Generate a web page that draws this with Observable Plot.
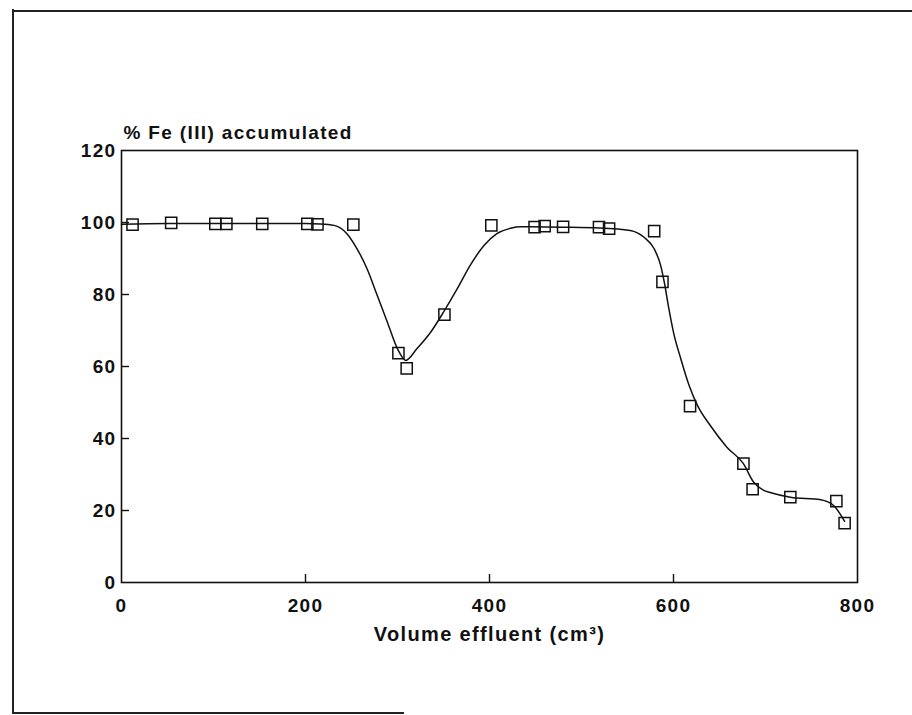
<!DOCTYPE html>
<html>
<head>
<meta charset="utf-8">
<script src="https://cdn.jsdelivr.net/npm/d3@7"></script>
<script src="https://cdn.jsdelivr.net/npm/@observablehq/plot@0.6"></script>
<style>
  html, body { margin: 0; padding: 0; background: #fff; }
  #wrap { position: relative; width: 912px; height: 715px; overflow: hidden; }
  .edge { position: absolute; background: #222; }
</style>
</head>
<body>
<div id="wrap">
  <div class="edge" style="left:12px; top:9px; width:1.5px; height:704px;"></div>
  <div class="edge" style="left:12px; top:10px; width:900px; height:1.5px;"></div>
  <div class="edge" style="left:12px; top:712px; width:392px; height:1.5px;"></div>
</div>
<script>
// Measured points (volume effluent cm3, % Fe(III) accumulated)
const ptX = [12, 54, 102, 114, 153, 202, 213, 252, 301, 310, 351, 402, 449, 460, 480, 519, 530, 579, 588, 618, 676, 686, 727, 777, 786];
const ptY = [99.4, 99.9, 99.6, 99.6, 99.6, 99.6, 99.5, 99.4, 63.7, 59.5, 74.4, 99.2, 98.7, 99.0, 98.8, 98.7, 98.3, 97.6, 83.5, 49.0, 33.0, 25.9, 23.7, 22.6, 16.5];

// Smooth fitted curve
const curveX = [0, 50, 100, 150, 200, 216, 231, 245, 256, 267, 278, 289, 300, 309, 321, 336, 350, 365, 379, 394, 408, 423, 434, 480, 520, 553, 568, 579, 586, 590, 595, 600, 608, 617, 626, 640, 658, 676, 687, 698, 705, 727, 760, 774, 786];
const curveY = [99.5, 99.7, 99.7, 99.7, 99.7, 99.6, 99.2, 96.9, 92.7, 87.1, 79.7, 72.3, 64.9, 61.7, 64.9, 69.5, 75.1, 81.6, 88.1, 93.6, 96.9, 98.4, 98.8, 98.7, 98.5, 97.8, 95.9, 92.7, 88.1, 83.4, 76.0, 69.5, 62.1, 54.7, 49.2, 43.6, 37.6, 33.0, 27.9, 25.6, 25.0, 23.7, 23.0, 21.4, 17.0];

const xTicks = [0, 200, 400, 600, 800];
const yTicks = [0, 20, 40, 60, 80, 100, 120];
const yLabel = "% Fe (III) accumulated";
const xLabel = "Volume effluent (cm³)";

const points = ptX.map((x, i) => ({x, y: ptY[i]}));
const curve = curveX.map((x, i) => ({x, y: curveY[i]}));

const W = 912, H = 715, mL = 121, mR = 55, mT = 150, mB = 133;
const plotW = W - mL - mR, plotH = H - mT - mB;

const chart = Plot.plot({
  width: W,
  height: H,
  marginLeft: mL,
  marginRight: mR,
  marginTop: mT,
  marginBottom: mB,
  style: "font-family: 'Liberation Sans', Arial, sans-serif; font-size: 19px; font-weight: bold; letter-spacing: 1.35px; color: #111; background: transparent; overflow: visible;",
  x: {domain: [0, 800], ticks: xTicks},
  y: {domain: [0, 120], ticks: yTicks},
  marks: [
    Plot.frame({stroke: "#111", strokeWidth: 1.6}),
    Plot.tickY(yTicks.slice(1, -1), {y: d => d, stroke: "#111", strokeWidth: 1.4, insetRight: plotW - 8}),
    Plot.tickX(xTicks.slice(1, -1), {x: d => d, stroke: "#111", strokeWidth: 1.4, insetTop: plotH - 8}),
    Plot.axisY(yTicks, {tickSize: 0, tickPadding: 5, fontSize: 19, fontWeight: "bold", label: null}),
    Plot.axisX(xTicks, {tickSize: 0, tickPadding: 16, fontSize: 19, fontWeight: "bold", label: null}),
    Plot.line(curve, {x: "x", y: "y", curve: "monotone-x", stroke: "#111", strokeWidth: 1.5}),
    Plot.dot(points, {x: "x", y: "y", symbol: "square", r: 6.3, stroke: "#111", strokeWidth: 1.5, fill: "none"}),
    Plot.text([yLabel], {text: d => d, frameAnchor: "top-left", textAnchor: "start", lineAnchor: "bottom", dx: 2, dy: -12, fontSize: 19, fontWeight: "bold"}),
    Plot.text([xLabel], {text: d => d, frameAnchor: "bottom", textAnchor: "middle", lineAnchor: "bottom", dy: 58, fontSize: 20, fontWeight: "bold"})
  ]
});
chart.style.position = "absolute";
chart.style.left = "0";
chart.style.top = "0";
document.getElementById("wrap").appendChild(chart);
</script>
</body>
</html>
